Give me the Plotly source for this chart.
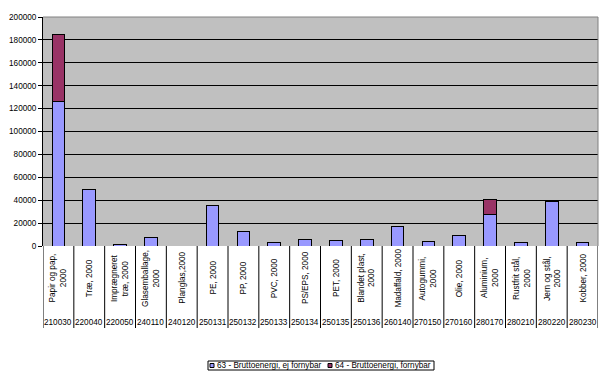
import plotly.graph_objects as go

categories = ["Papir og pap,<br>2000", "Træ, 2000", "Imprægneret<br>træ, 2000", "Glasemballage,<br>2000",
              "Planglas,2000", "PE, 2000", "PP, 2000", "PVC, 2000", "PS/EPS, 2000", "PET, 2000",
              "Blandet plast,<br>2000", "Madaffald, 2000", "Autogummi,<br>2000", "Olie, 2000",
              "Aluminium,<br>2000", "Rustfrit stål,<br>2000", "Jern og stål,<br>2000", "Kobber, 2000"]
codes = ["210030", "220040", "220050", "240110", "240120", "250131", "250132", "250133", "250134",
         "250135", "250136", "260140", "270150", "270160", "280170", "280210", "280220", "280230"]
non_renewable = [126000, 49500, 1000, 7600, 0, 35500, 12800, 3300, 5800, 5000, 5800, 17200,
                 4100, 9300, 27600, 3300, 38600, 3300]
renewable = [59000, None, None, None, None, None, None, None, None, None, None, None,
             None, None, 13100, None, 900, None]
series_names = ["63 - Bruttoenergi, ej fornybar", "64 - Bruttoenergi, fornybar"]
series_colors = ["#9999FF", "#993366"]
y_ticks = list(range(0, 200001, 20000))

FONT = "Arial, Liberation Sans, sans-serif"
FS = 8.2
n = len(categories)
xs = list(range(n))

fig = go.Figure()
fig.add_bar(x=xs, y=non_renewable, name=series_names[0], showlegend=False,
            marker=dict(color=series_colors[0], line=dict(color="black", width=1)))
fig.add_bar(x=xs, y=renewable, name=series_names[1], showlegend=False,
            marker=dict(color=series_colors[1], line=dict(color="black", width=1)))

plot_left, plot_right = 43, 598
plot_top, plot_bottom = 17, 246
pw = plot_right - plot_left
ph = plot_bottom - plot_top

def px_(x):
    return (x - plot_left) / pw

def py(y):
    return (plot_bottom - y) / ph

shapes = []
for i in range(n + 1):
    shapes.append(dict(type="line", xref="x", yref="paper", x0=i - 0.5, x1=i - 0.5,
                       y0=0, y1=py(328), line=dict(color="black", width=1)))
# plot border top/right
shapes.append(dict(type="line", xref="paper", yref="paper", x0=0, x1=1, y0=1, y1=1,
                   line=dict(color="#808080", width=1)))
shapes.append(dict(type="line", xref="paper", yref="paper", x0=1, x1=1, y0=0, y1=1,
                   line=dict(color="#808080", width=1)))

annotations = []
for i, (c, code) in enumerate(zip(categories, codes)):
    annotations.append(dict(x=i, y=py(278), xref="x", yref="paper", text=c, textangle=-90,
                            showarrow=False, font=dict(family=FONT, size=FS, color="black"),
                            xanchor="center", yanchor="middle"))
    annotations.append(dict(x=i, y=py(322), xref="x", yref="paper", text=code,
                            showarrow=False, font=dict(family=FONT, size=FS, color="black"),
                            xanchor="center", yanchor="middle"))

# legend drawn as box + swatches + text
shapes.append(dict(type="rect", xref="paper", yref="paper", x0=px_(208), x1=px_(434),
                   y0=py(361), y1=py(370), line=dict(color="black", width=1), fillcolor="white"))
leg_swatch_x = [210, 328]
for sx, name, col in zip(leg_swatch_x, series_names, series_colors):
    shapes.append(dict(type="rect", xref="paper", yref="paper", x0=px_(sx), x1=px_(sx + 4),
                       y0=py(363.5), y1=py(367.5), line=dict(color="black", width=1), fillcolor=col))
    annotations.append(dict(x=px_(sx + 4.5), y=py(365.5), xref="paper", yref="paper", text=name,
                            showarrow=False, xanchor="left", yanchor="middle",
                            font=dict(family=FONT, size=FS, color="black")))

fig.update_layout(
    barmode="stack", bargap=0.59,
    width=606, height=377,
    margin=dict(l=plot_left, r=606 - plot_right, t=plot_top, b=377 - plot_bottom, autoexpand=False),
    paper_bgcolor="white", plot_bgcolor="#C0C0C0",
    font=dict(family=FONT, size=FS, color="black"),
    showlegend=False,
    shapes=shapes, annotations=annotations,
)
fig.update_xaxes(range=[-0.5, n - 0.5], showticklabels=False, showgrid=False, zeroline=False,
                 showline=False, ticks="")
fig.update_yaxes(range=[0, 200000], tickvals=y_ticks, tickformat="d", showgrid=True,
                 gridcolor="black", gridwidth=1, zeroline=False, showline=True, linecolor="black",
                 linewidth=1, ticks="outside", ticklen=4, tickcolor="black",
                 tickfont=dict(family=FONT, size=FS, color="black"))

fig.write_html("out.html", config={"displayModeBar": False},
               post_script="document.body.style.margin='0';document.body.style.overflow='hidden';")
